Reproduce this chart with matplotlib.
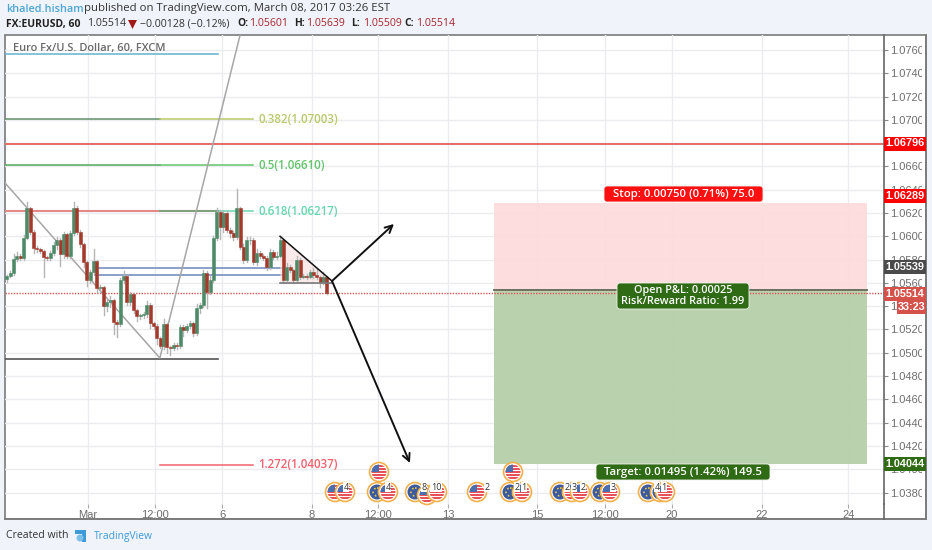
import matplotlib
matplotlib.use("Agg")
import matplotlib.pyplot as plt
from matplotlib.patches import Rectangle, Circle, FancyBboxPatch, Polygon

plt.rcParams['font.family'] = ['Open Sans', 'DejaVu Sans']

# closes of the 60 min candles
closes = [1.05659, 1.05685, 1.05805, 1.05831, 1.05814, 1.05985, 1.06243, 1.06037, 1.05900, 1.05891,
          1.05874, 1.05822, 1.05814, 1.05857, 1.05925, 1.05968, 1.05848, 1.06020, 1.05831, 1.06028,
          1.06243, 1.06037, 1.05934, 1.05780, 1.05625, 1.05694, 1.05788, 1.05556, 1.05565, 1.05402,
          1.05436, 1.05454, 1.05265, 1.05248, 1.05625, 1.05659, 1.05436, 1.05505, 1.05368, 1.05316,
          1.05325, 1.05333, 1.05411, 1.05256, 1.05230, 1.05127, 1.05059, 1.05248, 1.05050, 1.05042,
          1.05067, 1.05059, 1.05222, 1.05196, 1.05230, 1.05256, 1.05170, 1.05385, 1.05411, 1.05685,
          1.05522, 1.05625, 1.05985, 1.06209, 1.06080, 1.06200, 1.06054, 1.06028, 1.05994, 1.06243,
          1.05908, 1.05797, 1.05968, 1.05968, 1.05780, 1.05857, 1.05831, 1.05814, 1.05737, 1.05865,
          1.05822, 1.05831, 1.05968, 1.05625, 1.05737, 1.05711, 1.05625, 1.05797, 1.05651, 1.05659,
          1.05651, 1.05694, 1.05668, 1.05651, 1.05608, 1.05651, 1.05514]
first_open = 1.05630

# wicks in pips, same order as closes
wick_up = [1, 2, 4, 3, 2, 3, 5, 1, 2, 2, 1, 1, 1, 2, 3, 3, 2, 2, 1, 2,
           5, 2, 2, 1, 1, 2, 10, 1, 2, 1, 3, 3, 1, 2, 2, 4, 1, 2, 1, 1,
           1, 2, 3, 2, 1, 2, 1, 4, 1, 1, 2, 2, 2, 2, 2, 2, 1, 3, 2, 3,
           2, 3, 2, 3, 2, 2, 2, 2, 2, 16, 1, 3, 3, 3, 2, 3, 2, 2, 2, 3,
           2, 3, 2, 1, 3, 2, 1, 3, 2, 2, 2, 2, 3, 5, 1, 4, 1]
wick_dn = [2, 1, 2, 2, 2, 2, 1, 2, 4, 3, 2, 17, 2, 2, 2, 3, 10, 3, 2, 2,
           2, 2, 3, 4, 5, 3, 2, 3, 3, 8, 4, 4, 10, 11, 2, 3, 3, 3, 3, 4,
           3, 3, 3, 4, 3, 5, 2, 3, 5, 6, 2, 3, 2, 5, 2, 2, 3, 2, 4, 2,
           14, 2, 2, 2, 10, 4, 2, 3, 3, 2, 2, 3, 2, 3, 2, 3, 2, 2, 3, 2,
           2, 2, 1, 3, 2, 2, 3, 2, 2, 1, 2, 1, 3, 2, 4, 2, 1]

price_ticks = [1.038 + 0.002 * i for i in range(20)]
time_pos = [24.3, 44.4, 64.6, 91.6, 111.4, 132.4, 159.2, 179.6, 199.7, 226.7, 252.6]
time_labels = ['Mar', '12:00', '6', '8', '12:00', '13', '15', '12:00', '20', '22', '24']

last_price = 1.05514
red_line = 1.06796
stop_price = 1.06289
entry_price = 1.05539
target_price = 1.04044
fib_prices = [1.07003, 1.06610, 1.06217, 1.04037]
fib_names = ['0.382(1.07003)', '0.5(1.06610)', '0.618(1.06217)', '1.272(1.04037)']
fib_colors = ['#b9c96b', '#62c46a', '#66d6ad', '#f2606c']

# events: x pixel, y pixel, kind
events = [(335, 492, 'us'), (345, 492, 'us'), (377, 492, 'eu'), (388, 492, 'us'), (379, 472, 'us'),
          (415, 492, 'eu'), (427, 495, 'us'), (437, 492, 'us'), (477, 492, 'us'), (513, 472, 'us'),
          (510, 492, 'eu'), (522, 492, 'us'), (560, 492, 'eu'), (572, 492, 'us'), (580, 492, 'us'),
          (600, 492, 'eu'), (610, 492, 'us'), (648, 492, 'eu'), (660, 492, 'eu'), (665, 492, 'us')]
event_nums = [(346, '4'), (388, '4'), (424, '8'), (436, '10'), (487, '2'), (517, '2'), (524, '1'),
              (567, '2'), (574, '3'), (583, '2'), (613, '3'), (657, '4'), (664, '1')]

W, H = 932, 550
BG = '#f0f3f9'
fig = plt.figure(figsize=(W / 100, H / 100), dpi=100, facecolor=BG)

# white panel behind everything
back = fig.add_axes([0, 0, 1, 1], zorder=-1)
back.set_xlim(0, W)
back.set_ylim(H, 0)
back.axis('off')
back.add_patch(Rectangle((5, 35), 921, 484, fc='white', ec='#7a7a7a', lw=1.2))

# main chart, 5..884 px wide, 35..504 px high
ax = fig.add_axes([5 / W, 1 - 504 / H, 879 / W, 469 / H], zorder=1)
ax.set_xlim(-0.6, 263.36)
ax.set_ylim(1.03702, 1.07728)
ax.set_facecolor('none')
for s in ['top', 'left', 'bottom']:
    ax.spines[s].set_visible(False)
ax.spines['right'].set_color('#666666')
ax.spines['right'].set_linewidth(1.2)
ax.yaxis.tick_right()
ax.set_yticks(price_ticks)
ax.set_yticklabels(['%.5f' % p for p in price_ticks], fontsize=8, color='#6e6e6e', family='Liberation Sans')
ax.set_xticks(time_pos)
ax.set_xticklabels(time_labels, fontsize=8, color='#6e6e6e', family='Liberation Sans')
ax.tick_params(axis='y', length=3, color='#888888', pad=1.2)
ax.tick_params(axis='x', length=3, color='#aaaaaa', pad=1.5)
ax.grid(True, color='#ececf0', lw=1)
ax.set_axisbelow(True)

# position tool
ax.add_patch(Rectangle((146.2, entry_price), 112.1, stop_price - entry_price, fc='#fddcdc', ec='none', alpha=.95, zorder=1))
ax.add_patch(Rectangle((146.2, target_price), 112.1, entry_price - target_price, fc='#b7cfaa', ec='none', alpha=.95, zorder=1))
ax.plot([146.2, 258.3], [entry_price, entry_price], color='#70705f', lw=1.4, zorder=2)

# level lines
ax.plot([-0.6, 63.4], [1.07564, 1.07564], color='#6fb8d2', lw=1.2, zorder=2)
ax.plot([-0.6, 45.9], [fib_prices[0]] * 2, color='#5f8f6a', lw=1.1, zorder=2)
ax.plot([-0.6, 45.9], [fib_prices[1]] * 2, color='#4fa85a', lw=1.1, zorder=2)
ax.plot([-0.6, 63.4], [fib_prices[2]] * 2, color='#e28a88', lw=1.5, zorder=2)
for p, c in zip(fib_prices, fib_colors):
    ax.plot([45.9, 73.9], [p, p], color=c, lw=1.1, zorder=2)
ax.plot([45.9, 63.4], [fib_prices[2]] * 2, color='#7d9a72', lw=1.2, zorder=2)
ax.plot([-0.6, 263.36], [red_line, red_line], color='#e4605c', lw=1.3, zorder=2)
ax.plot([-0.6, 63.4], [1.04945, 1.04945], color='#555555', lw=1.2, zorder=2)
ax.plot([26.4, 82.6], [1.05672, 1.05672], color='#8a9fc8', lw=1.4, zorder=2)
ax.plot([26.4, 82.6], [1.05725, 1.05725], color='#8a9fc8', lw=1.4, zorder=2)
ax.plot([-0.6, 263.36], [last_price, last_price], color='#d9534f', lw=1, ls=(0, (1, 1)), zorder=2)
ax.plot([-0.6, 45.9, 70], [1.06458, 1.04955, 1.07728], color='#a6a6a6', lw=1.1, zorder=2)

# candles
opens = [first_open] + closes[:-1]
for i, (o, c, up, dn) in enumerate(zip(opens, closes, wick_up, wick_dn)):
    top, bot = max(o, c), min(o, c)
    ax.plot([i, i], [bot - dn * 1e-4, top + up * 1e-4], color='#b5b5b5', lw=1, zorder=3)
    col = '#4c8a68' if c >= o else '#a33a2c'
    ax.bar(i, top - bot, bottom=bot, width=.9, color=col, edgecolor=col, lw=.4, zorder=4)

# triangle and arrows
ax.add_patch(Polygon([(82, 1.0600), (97.6, 1.05616), (82, 1.05595)], fc='#f8dcdc', ec='none', alpha=.6, zorder=2))
ax.plot([82, 97.6], [1.0600, 1.05616], color='#111111', lw=1.1, zorder=5)
ax.plot([82, 97.6], [1.05595, 1.05595], color='#777777', lw=1.2, zorder=5)
for tip in [(116.2, 1.06106), (121, 1.04054)]:
    ax.annotate('', xy=tip, xytext=(97.6, 1.05616), zorder=6,
                arrowprops=dict(arrowstyle='->', color='#111111', lw=1.4, mutation_scale=13, shrinkA=0, shrinkB=0))

# fib labels
for p, n, c in zip(fib_prices, fib_names, fib_colors):
    ax.text(75.4, p, n, color=c, fontsize=8.3, fontweight='semibold', va='center', zorder=6)

# overlay in pixels for the screenshot furniture
ov = fig.add_axes([0, 0, 1, 1], zorder=2)
ov.set_xlim(0, W)
ov.set_ylim(H, 0)
ov.axis('off')
# the price labels are cut off at the edge of the pane
ov.add_patch(Rectangle((922, 36), 3.4, 482, fc='white', ec='none'))
ov.add_patch(Rectangle((926.6, 30), 6, 495, fc=BG, ec='none'))
ov.plot([926, 926], [35, 519], color='#7a7a7a', lw=1.2)
ov.plot([5, 926], [519, 519], color='#7a7a7a', lw=1.2)
ov.plot([884, 884], [504, 519], color='#666666', lw=1.2)


def txt(x, y, s, **kw):
    kw.setdefault('va', 'center')
    kw.setdefault('fontsize', 7.2)
    return ov.text(x, y, s, **kw)


# header
txt(6, 9, 'khaled.hisham', color='#4ba6d6', fontweight='semibold', fontsize=7.8)
txt(84, 9, 'published on TradingView.com, March 08, 2017 03:26 EST', color='#333333', fontsize=8.2)
txt(6, 24, 'FX:EURUSD, 60', color='#222222', fontweight='bold', fontsize=7.5)
txt(87, 24, '1.05514', color='#333333', fontsize=7.6)
ov.add_patch(Polygon([(128, 20), (137, 20), (132.5, 29)], fc='#a01818', ec='none'))
txt(140, 24, '\u22120.00128 (\u22120.12%)', color='#333333', fontsize=7.6)
for x, lab, val in [(237, 'O:', '1.05601'), (294, 'H:', '1.05639'), (351, 'L:', '1.05509'), (404, 'C:', '1.05514')]:
    txt(x, 24, lab, color='#222222', fontweight='bold', fontsize=7.4)
    txt(x + 12, 24, val, color='#a8262f', fontsize=7.6)
txt(13, 49, 'Euro Fx/U.S. Dollar, 60, FXCM', color='#6a6a6a', fontweight='semibold', fontsize=7.9)

# footer
txt(6, 536, 'Created with', color='#333333', fontsize=7.6)
ov.add_patch(Polygon([(75, 530), (86, 530), (86, 542), (82, 542), (82, 534), (75, 534)], fc='#3d9bd8', ec='none'))
ov.add_patch(Circle((80, 538), 3.5, fc='#7cc0e8', ec='none'))
txt(94, 536, 'TradingView', color='#3d9bd8', fontsize=7.4)


def tag(y, s, fc, x0=884, x1=926, h=14):
    ov.add_patch(Rectangle((x0, y - h / 2), x1 - x0, h, fc=fc, ec='none', zorder=5))
    txt((x0 + x1) / 2, y, s, color='white', fontweight='bold', ha='center', fontsize=7.8,
        family='Liberation Sans', zorder=6)


tag(143.5, '1.06796', '#ff0000')
tag(196, '1.06289', '#ff0000')
tag(267, '1.05539', '#4a4a4a')
tag(294, '1.05514', '#d4524a')
tag(307.5, '33:23', '#d4524a', x0=897, h=13)
tag(464, '1.04044', '#2f6b14')


def pill(x0, y0, x1, y1, fc):
    ov.add_patch(FancyBboxPatch((x0 + 2, y0 + 2), x1 - x0 - 4, y1 - y0 - 4, boxstyle='round,pad=2,rounding_size=3',
                                fc=fc, ec='#eef3ea', lw=.6, zorder=5))


pill(604, 186, 763, 202, '#ff0f0f')
txt(683.5, 194, 'Stop: 0.00750 (0.71%) 75.0', color='white', fontweight='semibold', ha='center', fontsize=8.2, zorder=6)
pill(617, 283, 749, 309, '#2f6b14')
txt(683, 290.5, 'Open P&L: 0.00025', color='white', fontweight='semibold', ha='center', fontsize=7.8, zorder=6)
txt(683, 301, 'Risk/Reward Ratio: 1.99', color='white', fontweight='semibold', ha='center', fontsize=7.8, zorder=6)
pill(596, 464, 770, 480, '#2f6b14')
txt(683, 472, 'Target: 0.01495 (1.42%) 149.5', color='white', fontweight='semibold', ha='center', fontsize=8.2, zorder=6)


# event badges
def badge(cx, cy, kind, z):
    ring = Circle((cx, cy), 9.5, fc='white', ec='#f2b04a', lw=1.2, zorder=z)
    ov.add_patch(ring)
    clip = Circle((cx, cy), 7.5, transform=ov.transData)
    if kind == 'us':
        for k in range(5):
            r = Rectangle((cx - 8, cy - 7 + k * 3), 16, 1.6, fc='#e8505a', ec='none', zorder=z)
            ov.add_patch(r)
            r.set_clip_path(clip)
        r = Rectangle((cx - 8, cy - 8), 8, 8, fc='#4a6fb0', ec='none', zorder=z)
        ov.add_patch(r)
        r.set_clip_path(clip)
    else:
        ov.add_patch(Circle((cx, cy), 7.5, fc='#3c5a9e', ec='none', zorder=z))
        ov.add_patch(Circle((cx, cy), 4, fc='none', ec='#e8c84a', lw=1.2, ls=':', zorder=z))


for n, (cx, cy, kind) in enumerate(events):
    badge(cx, cy, kind, 7 + n * .01)
for x, s in event_nums:
    txt(x, 487, s, color='#333333', fontsize=6.5, ha='center', zorder=8,
        bbox=dict(fc='white', ec='none', pad=.4))

fig.savefig('out.png', dpi=100, facecolor=fig.get_facecolor())
